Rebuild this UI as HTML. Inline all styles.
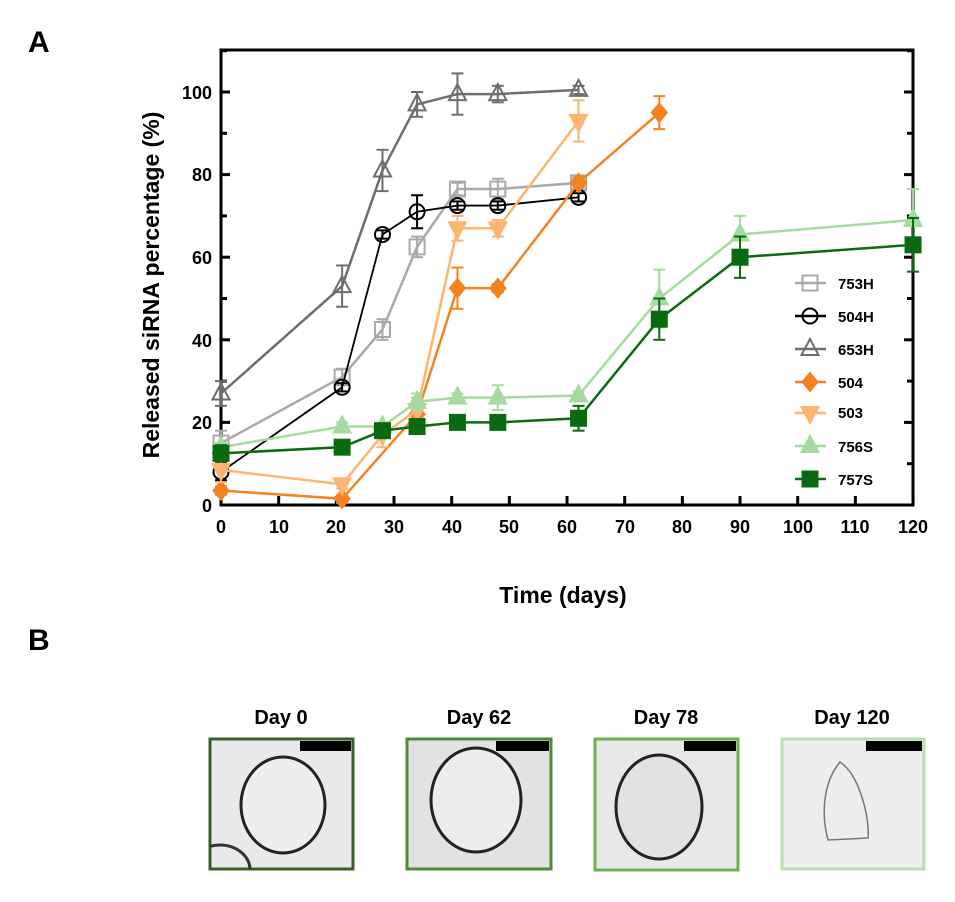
<!DOCTYPE html>
<html><head><meta charset="utf-8"><style>
body{margin:0;background:#fff;width:955px;height:897px;overflow:hidden;font-family:"Liberation Sans",Arial,sans-serif}
</style></head><body>
<svg id="s" width="955" height="897" xmlns="http://www.w3.org/2000/svg" font-family="Liberation Sans, Arial, sans-serif" font-weight="bold">
<text x="28" y="52" font-size="30">A</text>
<text x="28" y="650" font-size="30">B</text>
<g font-size="18" text-anchor="end">
<text x="212" y="512">0</text><text x="212" y="429">20</text><text x="212" y="347">40</text><text x="212" y="264">60</text><text x="212" y="181">80</text><text x="212" y="99">100</text>
</g>
<g font-size="18" text-anchor="middle">
<text x="221" y="533">0</text><text x="279" y="533">10</text><text x="336" y="533">20</text><text x="394" y="533">30</text><text x="452" y="533">40</text><text x="509" y="533">50</text><text x="567" y="533">60</text><text x="625" y="533">70</text><text x="682" y="533">80</text><text x="740" y="533">90</text><text x="798" y="533">100</text><text x="855" y="533">110</text><text x="913" y="533">120</text>
</g>
<text x="563" y="603" font-size="23" text-anchor="middle">Time (days)</text>
<text transform="translate(159,285) rotate(-90)" font-size="23" text-anchor="middle">Released siRNA percentage (%)</text>
<g id="plot"></g>
<g font-size="15">
<text x="838" y="289">753H</text><text x="838" y="322">504H</text><text x="838" y="355">653H</text><text x="838" y="388">504</text><text x="838" y="418">503</text><text x="838" y="452">756S</text><text x="838" y="485">757S</text>
</g>
<g font-size="20" text-anchor="middle">
<text x="281" y="724">Day 0</text><text x="479" y="724">Day 62</text><text x="666" y="724">Day 78</text><text x="852" y="724">Day 120</text>
</g>
<defs><clipPath id="c0"><rect x="210" y="739" width="143" height="130"/></clipPath></defs>
<g>
<rect x="210" y="739" width="143" height="130" fill="#e9e9e9" stroke="#3a5f2a" stroke-width="3"/>
<rect x="300" y="741" width="51" height="10" fill="#000"/>
<ellipse cx="283" cy="805" rx="42" ry="48" fill="#eee" stroke="#222" stroke-width="3"/>
<ellipse cx="220" cy="870" rx="30" ry="25" fill="none" stroke="#333" stroke-width="3" clip-path="url(#c0)"/>
<rect x="407" y="739" width="144" height="130" fill="#e2e2e2" stroke="#4f8a38" stroke-width="3"/>
<rect x="496" y="741" width="53" height="10" fill="#000"/>
<ellipse cx="476" cy="800" rx="45" ry="52" fill="#ececec" stroke="#222" stroke-width="3"/>
<rect x="595" y="739" width="143" height="131" fill="#e8e8e8" stroke="#6ab04c" stroke-width="3"/>
<rect x="684" y="741" width="52" height="10" fill="#000"/>
<ellipse cx="659" cy="807" rx="43" ry="52" fill="#e2e2e2" stroke="#222" stroke-width="3"/>
<rect x="782" y="739" width="142" height="130" fill="#eeeeee" stroke="#b9deb0" stroke-width="3"/>
<rect x="866" y="741" width="56" height="10" fill="#000"/>
<path d="M840 762 C860 775 870 820 868 838 L828 840 C820 810 825 780 840 762Z" fill="none" stroke="#777" stroke-width="1.5"/>
</g>
</svg>
<script>
var P=document.getElementById('plot'),NS='http://www.w3.org/2000/svg';
function X(d){return 221+d*5.767}function Y(v){return 505-v*4.13}
function el(t,a){var e=document.createElementNS(NS,t);for(var k in a)e.setAttribute(k,a[k]);P.appendChild(e);return e}
el('rect',{x:221,y:50,width:692,height:455,fill:'none',stroke:'#000','stroke-width':3});
for(var v=0;v<=110;v+=10){var L=v%20==0?9:6;el('line',{x1:221,y1:Y(v),x2:221+L,y2:Y(v),stroke:'#000','stroke-width':3});el('line',{x1:913,y1:Y(v),x2:913-L,y2:Y(v),stroke:'#000','stroke-width':3});}
for(var d=0;d<=120;d+=10){el('line',{x1:X(d),y1:505,x2:X(d),y2:496,stroke:'#000','stroke-width':3});}
var S=[
['753H','#a9a9a9','sq',0,[[0,15,3],[21,31,2],[28,42.5,2.5],[34,62.5,2.5],[41,76.5,1.5],[48,76.5,2.5],[62,78,1.5]]],
['504H','#000','ci',0,[[0,8,2],[21,28.5,1],[28,65.5,1],[34,71,4],[41,72.5,1],[48,72.5,1],[62,74.5,1]]],
['653H','#6e6e6e','tu',0,[[0,27,3],[21,53,5],[28,81,5],[34,97,3],[41,99.5,5],[48,99.5,2],[62,100.5,1]]],
['504','#f58220','di',1,[[0,3.5,1],[21,1.5,1],[34,22,3],[41,52.5,5],[48,52.5,1],[62,78,1],[76,95,4]]],
['503','#fdb56f','td',1,[[0,8.5,3],[21,5,1],[28,17,3],[34,23,3],[41,67,3],[48,67,2],[62,93,5]]],
['756S','#a6dba0','tu',1,[[0,14,1],[21,19,1],[28,19,1],[34,25,2],[41,26,1],[48,26,3],[62,26.5,1],[76,50,7],[90,65.5,4.5],[120,69,7.5]]],
['757S','#0a6a12','sq',1,[[0,12.5,2],[21,14,1],[28,18,1],[34,19,1],[41,20,1],[48,20,1],[62,21,3],[76,45,5],[90,60,5],[120,63,6.5]]]];
function mk(x,y,t,c,f){var a={fill:f?c:'#fff',stroke:c,'stroke-width':2};
if(t=='sq'){a.x=x-7.5;a.y=y-7.5;a.width=15;a.height=15;if(!f)a['fill-opacity']=0;el('rect',a)}
else if(t=='ci'){a.cx=x;a.cy=y;a.r=7.5;a['fill-opacity']=0;el('circle',a)}
else if(t=='tu'){a.points=[x,y-10,x+8.5,y+6,x-8.5,y+6].join(' ');if(!f)a['fill-opacity']=0;el('polygon',a)}
else if(t=='td'){a.points=[x,y+10,x+8.5,y-6,x-8.5,y-6].join(' ');el('polygon',a)}
else if(t=='di'){a.points=[x,y-9,x+7.5,y,x,y+9,x-7.5,y].join(' ');el('polygon',a)}}
S.forEach(function(s,i){var pts=s[4].map(function(p){return X(p[0])+','+Y(p[1])}).join(' ');
el('polyline',{points:pts,fill:'none',stroke:s[1],'stroke-width':s[0]=='504H'?1.8:2.5});
s[4].forEach(function(p){var x=X(p[0]),y1=Y(p[1]+p[2]),y2=Y(p[1]-p[2]);el('line',{x1:x,y1:y1,x2:x,y2:y2,stroke:s[1],'stroke-width':2});el('line',{x1:x-6,y1:y1,x2:x+6,y2:y1,stroke:s[1],'stroke-width':2});el('line',{x1:x-6,y1:y2,x2:x+6,y2:y2,stroke:s[1],'stroke-width':2});mk(x,Y(p[1]),s[2],s[1],s[3]);});
var ly=[283,316,349,382,413,446,479][i];el('line',{x1:795,y1:ly,x2:826,y2:ly,stroke:s[1],'stroke-width':2.5});mk(810,ly,s[2],s[1],s[3]);});
</script>
</body></html>
